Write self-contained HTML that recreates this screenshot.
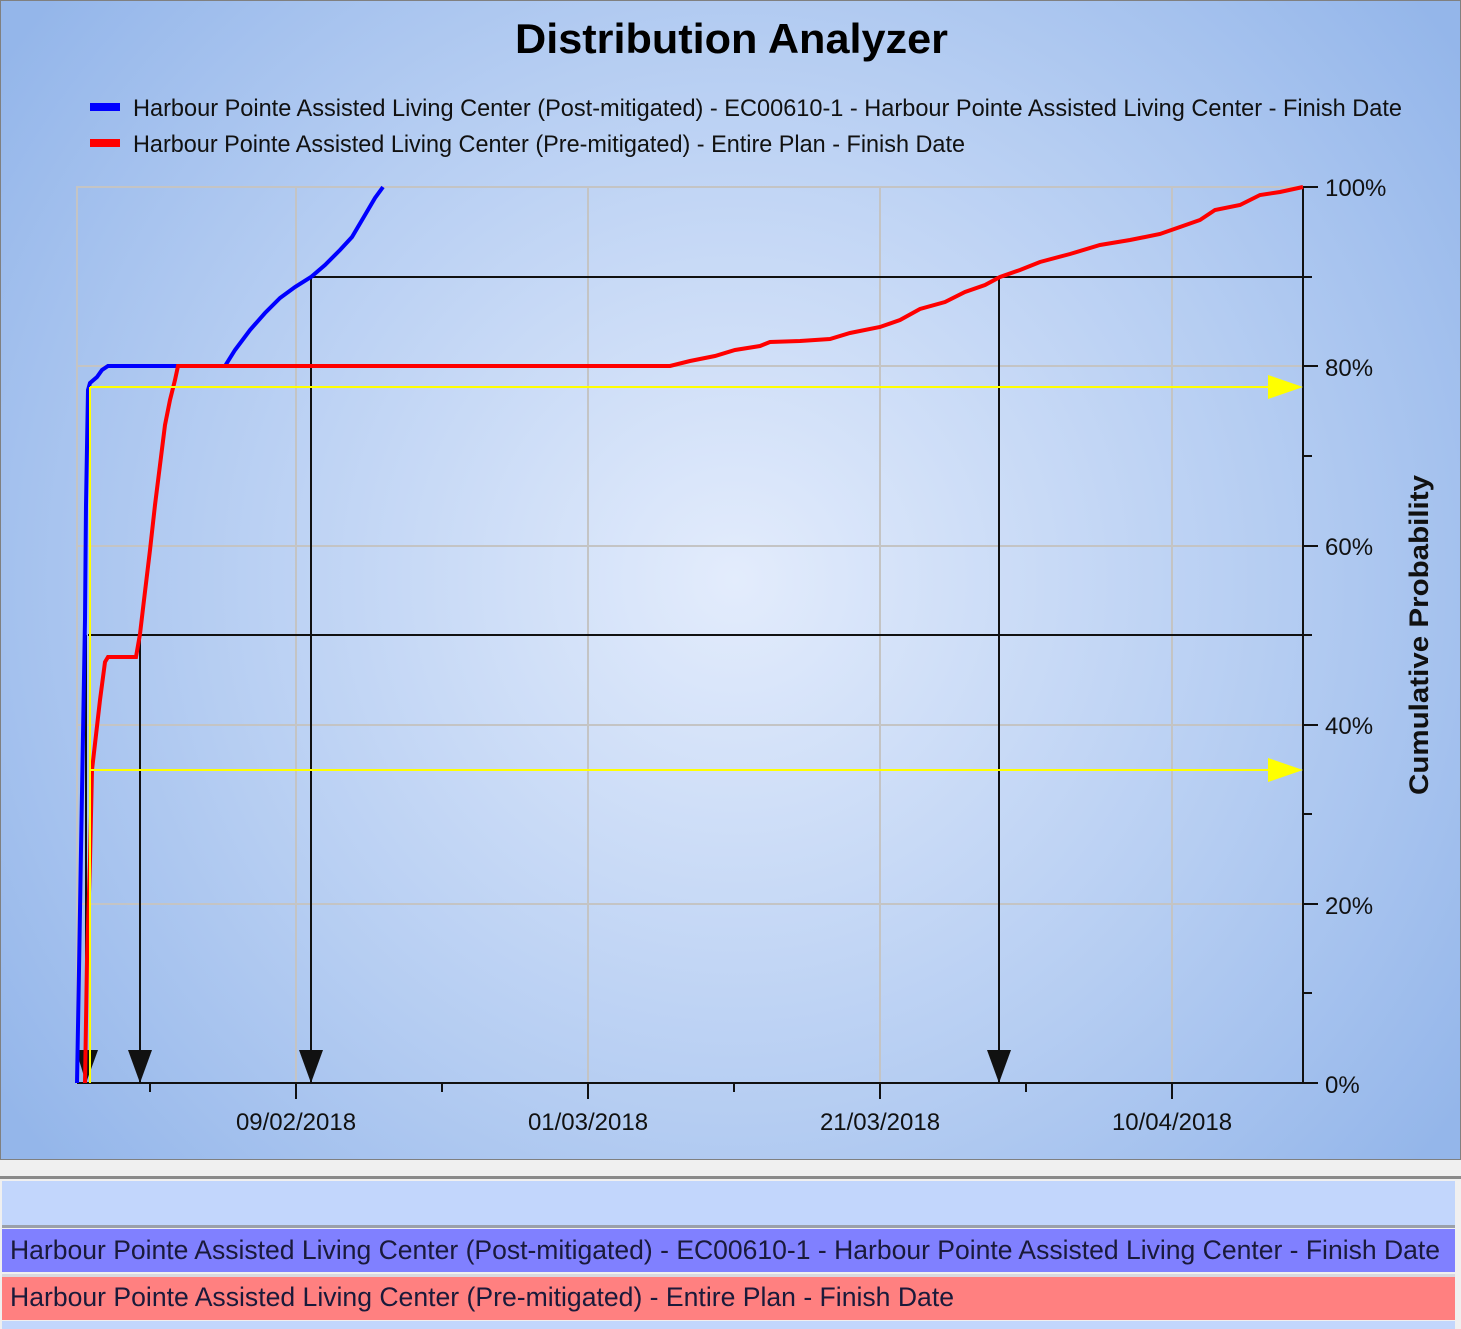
<!DOCTYPE html>
<html><head><meta charset="utf-8"><style>
html,body{margin:0;padding:0;width:1461px;height:1329px;overflow:hidden;background:#f0f0f0}
svg{display:block}
text{font-family:"Liberation Sans",sans-serif}
</style></head><body>
<svg width="1461" height="1329" xmlns="http://www.w3.org/2000/svg">
<defs>
<radialGradient id="bg" cx="735" cy="580" r="900" gradientUnits="userSpaceOnUse">
<stop offset="0" stop-color="#e3ecfc"/><stop offset="0.6" stop-color="#b5cdf2"/><stop offset="1" stop-color="#94b6ea"/>
</radialGradient>
</defs>
<rect x="0" y="0" width="1461" height="1160" fill="url(#bg)"/>
<rect x="0.5" y="0.5" width="1460" height="1159" fill="none" stroke="#808080"/>
<text x="515" y="53" font-size="42" font-weight="bold" textLength="433" lengthAdjust="spacingAndGlyphs" fill="#000">Distribution Analyzer</text>
<rect x="90" y="103" width="30" height="8" fill="#0000ff"/>
<rect x="90" y="139" width="30" height="8" fill="#ff0000"/>
<text x="133" y="116" font-size="24" textLength="1269" lengthAdjust="spacingAndGlyphs" fill="#111">Harbour Pointe Assisted Living Center (Post-mitigated) - EC00610-1 - Harbour Pointe Assisted Living Center - Finish Date</text>
<text x="133" y="152" font-size="24" textLength="832" lengthAdjust="spacingAndGlyphs" fill="#111">Harbour Pointe Assisted Living Center (Pre-mitigated) - Entire Plan - Finish Date</text>
<g stroke="#c4c4c4" stroke-width="2" fill="none">
<rect x="77" y="187" width="1226" height="896"/>
<line x1="296" y1="187" x2="296" y2="1083"/><line x1="588" y1="187" x2="588" y2="1083"/>
<line x1="880" y1="187" x2="880" y2="1083"/><line x1="1172" y1="187" x2="1172" y2="1083"/>
<line x1="77" y1="366" x2="1303" y2="366"/><line x1="77" y1="546" x2="1303" y2="546"/>
<line x1="77" y1="725" x2="1303" y2="725"/><line x1="77" y1="904" x2="1303" y2="904"/>
</g>
<g stroke="#111" stroke-width="2" fill="none">
<line x1="77" y1="1083" x2="1303" y2="1083"/><line x1="1303" y1="187" x2="1303" y2="1083"/>
<line x1="1303" y1="187" x2="1318" y2="187"/><line x1="1303" y1="277" x2="1312" y2="277"/>
<line x1="1303" y1="366" x2="1318" y2="366"/><line x1="1303" y1="456" x2="1312" y2="456"/>
<line x1="1303" y1="546" x2="1318" y2="546"/><line x1="1303" y1="635" x2="1312" y2="635"/>
<line x1="1303" y1="725" x2="1318" y2="725"/><line x1="1303" y1="814" x2="1312" y2="814"/>
<line x1="1303" y1="904" x2="1318" y2="904"/><line x1="1303" y1="993" x2="1312" y2="993"/>
<line x1="1303" y1="1083" x2="1318" y2="1083"/>
<line x1="150" y1="1083" x2="150" y2="1092"/><line x1="296" y1="1083" x2="296" y2="1099"/>
<line x1="442" y1="1083" x2="442" y2="1092"/><line x1="588" y1="1083" x2="588" y2="1099"/>
<line x1="734" y1="1083" x2="734" y2="1092"/><line x1="880" y1="1083" x2="880" y2="1099"/>
<line x1="1026" y1="1083" x2="1026" y2="1092"/><line x1="1172" y1="1083" x2="1172" y2="1099"/>
</g>
<g font-size="24" fill="#111">
<text x="1325" y="196">100%</text><text x="1325" y="376">80%</text><text x="1325" y="555">60%</text>
<text x="1325" y="734">40%</text><text x="1325" y="914">20%</text><text x="1325" y="1093">0%</text>
<text x="296" y="1130" text-anchor="middle">09/02/2018</text><text x="588" y="1130" text-anchor="middle">01/03/2018</text>
<text x="880" y="1130" text-anchor="middle">21/03/2018</text><text x="1172" y="1130" text-anchor="middle">10/04/2018</text>
</g>
<text transform="translate(1428,635) rotate(-90)" font-size="27" font-weight="bold" text-anchor="middle" textLength="320" lengthAdjust="spacingAndGlyphs" fill="#111">Cumulative Probability</text>
<g stroke="#111" stroke-width="2" fill="none">
<line x1="311" y1="277" x2="1303" y2="277"/><line x1="88" y1="635" x2="1303" y2="635"/>
<line x1="311" y1="277" x2="311" y2="1083"/><line x1="999" y1="277" x2="999" y2="1083"/>
<line x1="140" y1="635" x2="140" y2="1083"/><line x1="86" y1="635" x2="86" y2="1083"/>
</g>
<g fill="#111">
<polygon points="299,1050 323,1050 311,1083"/><polygon points="987,1050 1011,1050 999,1083"/>
<polygon points="128,1050 152,1050 140,1083"/><polygon points="76,1050 98,1050 86,1083"/>
</g>
<polyline fill="none" stroke="#0000ff" stroke-width="4" points="77,1083 79,970 81,850 83,735 85,620 86,505 88,390 90,383 97,377 102,370 108,366 225,366 235,350 250,330 265,313 280,298 295,287 311,277 325,265 340,250 352,237 365,215 375,198 383,187"/>
<polyline fill="none" stroke="#ff0000" stroke-width="4" points="85,1083 87,960 90,860 92,770 96,735 100,700 105,662 108,657 136,657 140,634 144,600 150,550 155,505 160,465 165,425 170,400 175,380 178,366 670,366 690,361 715,356 735,350 760,346 770,342 800,341 830,339 850,333 880,327 900,320 920,309 945,302 965,292 985,285 1000,277 1020,270 1040,262 1070,254 1100,245 1130,240 1160,234 1180,227 1200,220 1215,210 1240,205 1260,195 1280,192 1303,187"/>
<g stroke="#ffff00" stroke-width="2" fill="none">
<line x1="90" y1="387" x2="1270" y2="387"/><line x1="90" y1="770" x2="1270" y2="770"/>
<line x1="90" y1="387" x2="90" y2="1083"/>
</g>
<g fill="#ffff00">
<polygon points="1268,375 1268,399 1303,387"/><polygon points="1268,758 1268,782 1303,770"/>
</g>
<rect x="0" y="1160" width="1461" height="169" fill="#f0f0f0"/>
<rect x="0" y="1176" width="1461" height="3" fill="#8a8a8a"/>
<rect x="2" y="1181" width="1453" height="44" fill="#c2d6fc"/>
<rect x="2" y="1225" width="1453" height="3" fill="#9aa0aa"/>
<rect x="2" y="1229" width="1453" height="43" fill="#8080ff"/>
<rect x="2" y="1274" width="1453" height="3" fill="#d8d8e0"/>
<rect x="2" y="1277" width="1453" height="43" fill="#ff8080"/>
<rect x="2" y="1321" width="1453" height="8" fill="#c2d6fc"/>
<text x="10" y="1259" font-size="27" textLength="1430" lengthAdjust="spacingAndGlyphs" fill="#1a1a3a">Harbour Pointe Assisted Living Center (Post-mitigated) - EC00610-1 - Harbour Pointe Assisted Living Center - Finish Date</text>
<text x="10" y="1306" font-size="27" textLength="944" lengthAdjust="spacingAndGlyphs" fill="#1a1a3a">Harbour Pointe Assisted Living Center (Pre-mitigated) - Entire Plan - Finish Date</text>
</svg>
</body></html>
